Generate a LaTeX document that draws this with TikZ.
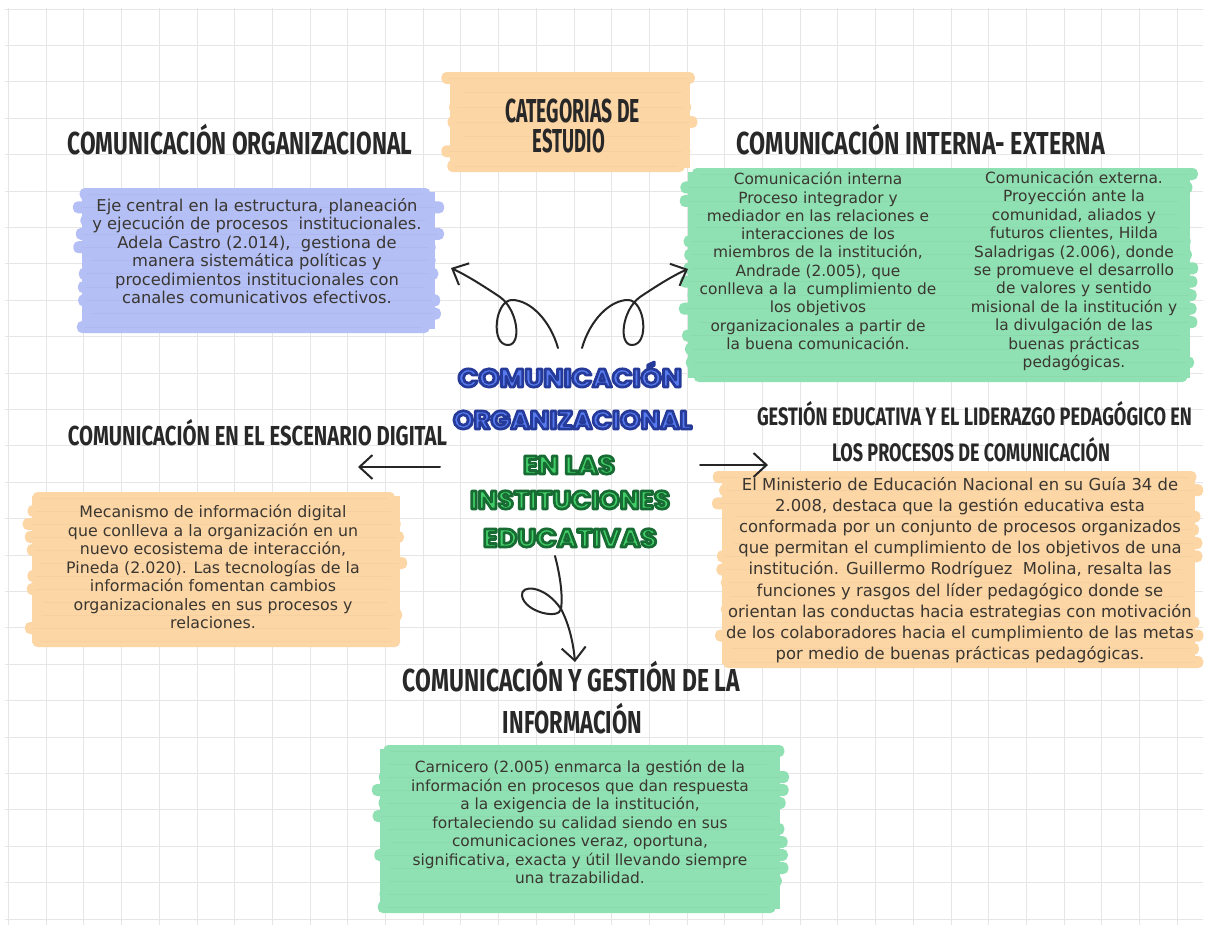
\documentclass[tikz,border=0pt]{standalone}
\usepackage{fontspec}
\usepackage{graphicx}
\usetikzlibrary{arrows.meta}
\setmainfont{DejaVu Sans}
\newfontfamily\headfont{Fira Sans}[FakeStretch=0.66]
\newfontfamily\titlefont{Poppins}
\definecolor{peach}{RGB}{253,214,166}
\definecolor{lav}{RGB}{180,191,246}
\definecolor{mint}{RGB}{143,224,178}
\definecolor{txt}{RGB}{58,54,48}
\definecolor{headc}{RGB}{40,40,40}
\definecolor{gridc}{RGB}{230,230,230}
\definecolor{tblue}{RGB}{88,124,240}
\definecolor{tgreen}{RGB}{66,206,104}
\newcommand\fitcaps[4]{\resizebox{#1pt}{#2pt}{#3\vphantom{H}\smash{#4}}}
% outlined text: fill colour #1, stroke colour #2 given as PDF rgb triple
\newcommand\bub[3]{{\color{#1}\special{pdf:literal direct 2 Tr 2.6 w #2 RG 1 j}#3\special{pdf:literal direct 0 Tr}}}
\newcommand\brushbox[6]{%
 \pgfmathsetseed{#6}%
 \fill[#5] ({#1+10},{#2+4}) rectangle ({#3-10},{#4-4});
 \pgfmathtruncatemacro\nb{(#4-#2-12)/13}%
 \foreach \k in {0,...,\nb}{%
   \pgfmathsetmacro\yy{#2+\k*(#4-#2-12)/\nb}%
   \pgfmathsetmacro\la{#1+rnd*16}%
   \pgfmathsetmacro\ra{#3-rnd*16}%
   \fill[#5, rounded corners=5pt] (\la,\yy) rectangle (\ra,\yy+12);
   \draw[#5!85!black, opacity=.18, line width=.8pt] ({\la+8},{\yy+6}) -- ({\ra-8},{\yy+6});
 }%
}
\tikzset{
 head/.style={anchor=base, inner sep=0pt, text=headc},
 ttl/.style={anchor=base, inner sep=0pt},
 body/.style={text=txt, align=center, inner sep=0pt},
 arr/.style={draw=black!85, line width=2pt, line cap=round, line join=round,
   -{Straight Barb[length=13pt,width=24pt]}},
 gridline/.style={draw=gridc, line width=1pt}
}
\begin{document}
\begin{tikzpicture}[x=1pt,y=-1pt]
\fill[white] (0,0) rectangle (1207,930);
\useasboundingbox (0,0) rectangle (1207,930);
% grid
\foreach \i in {0,...,31} \draw[gridline] ({8.5+37.7*\i},8) -- ({8.5+37.7*\i},925);
\foreach \j in {0,...,25} \draw[gridline] (5,{9+36.4*\j}) -- (1203,{9+36.4*\j});
% brush boxes
\brushbox{440}{72}{700}{172}{peach}{3}
\brushbox{72}{188}{445}{333}{lav}{5}
\brushbox{678}{168}{1200}{382}{mint}{7}
\brushbox{22}{492}{410}{647}{peach}{11}
\brushbox{712}{471}{1205}{668}{peach}{13}
\brushbox{370}{745}{790}{913}{mint}{17}
% headings
\node[head] (cat1) at (572.5,122) {\fitcaps{135}{23}{\headfont\bfseries}{CATEGORIAS DE}};
\node[head] (cat2) at (569,152) {\fitcaps{72}{23}{\headfont\bfseries}{ESTUDIO}};
\node[head] (hOrg) at (240,154) {\fitcaps{344}{22}{\headfont\bfseries}{COMUNICACIÓN ORGANIZACIONAL}};
\node[head] (hInt) at (921,154) {\fitcaps{368}{22}{\headfont\bfseries}{COMUNICACIÓN INTERNA- EXTERNA}};
\node[head] (hDig) at (257.5,445.5) {\fitcaps{379}{19}{\headfont\bfseries}{COMUNICACIÓN EN EL ESCENARIO DIGITAL}};
\node[head] (hGes1) at (974.5,425.7) {\fitcaps{435}{17.5}{\headfont\bfseries}{GESTIÓN EDUCATIVA Y EL LIDERAZGO PEDAGÓGICO EN}};
\node[head] (hGes2) at (971,461.7) {\fitcaps{278}{17.5}{\headfont\bfseries}{LOS PROCESOS DE COMUNICACIÓN}};
\node[head] (hInf1) at (571.5,691) {\fitcaps{337}{22}{\headfont\bfseries}{COMUNICACIÓN Y GESTIÓN DE LA}};
\node[head] (hInf2) at (572.5,733) {\fitcaps{139}{22}{\headfont\bfseries}{INFORMACIÓN}};
% title
\node[ttl] (t1) at (570,387) {\fitcaps{224}{18}{\titlefont\bfseries\fontsize{25}{25}\selectfont}{\bub{tblue}{0.15 0.23 0.60}{COMUNICACIÓN}}};
\node[ttl] (t2) at (572.5,429) {\fitcaps{239}{18}{\titlefont\bfseries\fontsize{25}{25}\selectfont}{\bub{tblue}{0.15 0.23 0.60}{ORGANIZACIONAL}}};
\node[ttl] (t3) at (569,474) {\fitcaps{92}{18}{\titlefont\bfseries\fontsize{25}{25}\selectfont}{\bub{tgreen}{0.09 0.42 0.20}{EN LAS}}};
\node[ttl] (t4) at (570,509) {\fitcaps{200}{18}{\titlefont\bfseries\fontsize{25}{25}\selectfont}{\bub{tgreen}{0.09 0.42 0.20}{INSTITUCIONES}}};
\node[ttl] (t5) at (570,547) {\fitcaps{174}{18}{\titlefont\bfseries\fontsize{25}{25}\selectfont}{\bub{tgreen}{0.09 0.42 0.20}{EDUCATIVAS}}};
% body texts
\node[body, font=\fontsize{16.3}{18.4}\selectfont] (tOrg) at (257,251) {Eje central en la estructura, planeación\\y ejecución de procesos\ \ institucionales.\\Adela Castro (2.014),\ \ gestiona de\\manera sistemática políticas y\\procedimientos institucionales con\\canales comunicativos efectivos.};
\node[body, font=\fontsize{15.4}{18.3}\selectfont] (tInt) at (818,261) {Comunicación interna\\Proceso integrador y\\mediador en las relaciones e\\interacciones de los\\miembros de la institución,\\Andrade (2.005), que\\conlleva a la\ \ cumplimiento de\\los objetivos\\organizacionales a partir de\\la buena comunicación.};
\node[body, font=\fontsize{15.4}{18.4}\selectfont] (tExt) at (1074,271) {Comunicación externa.\\Proyección ante la\\comunidad, aliados y\\futuros clientes, Hilda\\Saladrigas (2.006), donde\\se promueve el desarrollo\\de valores y sentido\\misional de la institución y\\la divulgación de las\\buenas prácticas\\pedagógicas.};
\node[body, font=\fontsize{15.8}{18.5}\selectfont] (tDig) at (213,567) {Mecanismo de información digital\\que conlleva a la organización en un\\nuevo ecosistema de interacción,\\Pineda (2.020). Las tecnologías de la\\información fomentan cambios\\organizacionales en sus procesos y\\relaciones.};
\node[body, font=\fontsize{16.4}{21.2}\selectfont] (tGes) at (960,570) {El Ministerio de Educación Nacional en su Guía 34 de\\2.008, destaca que la gestión educativa esta\\conformada por un conjunto de procesos organizados\\que permitan el cumplimiento de los objetivos de una\\institución. Guillermo Rodríguez\ \ Molina, resalta las\\funciones y rasgos del líder pedagógico donde se\\orientan las conductas hacia estrategias con motivación\\de los colaboradores hacia el cumplimiento de las metas\\por medio de buenas prácticas pedagógicas.};
\node[body, font=\fontsize{15.4}{18.5}\selectfont] (tInf) at (580,822) {Carnicero (2.005) enmarca la gestión de la\\información en procesos que dan respuesta\\a la exigencia de la institución,\\fortaleciendo su calidad siendo en sus\\comunicaciones veraz, oportuna,\\significativa, exacta y útil llevando siempre\\una trazabilidad.};
% arrows
\coordinate (aLs) at (440,467); \coordinate (aLe) at (358,467);
\coordinate (aRs) at (700,465); \coordinate (aRe) at (768,465);
\coordinate (cLs) at (558,348); \coordinate (cLe) at (451,268);
\coordinate (cRs) at (582,348); \coordinate (cRe) at (688,269);
\coordinate (cDs) at (555,556); \coordinate (cDe) at (575,662);
\draw[arr] (aLs) -- (aLe);
\draw[arr] (aRs) -- (aRe);
\draw[arr] (cLs) .. controls (550,320) and (530,300) .. (512,300) .. controls (495,300) and (490,345) .. (508,345) .. controls (522,345) and (518,310) .. (500,297) .. controls (485,287) and (468,276) .. (cLe);
\draw[arr] (cRs) .. controls (590,320) and (610,300) .. (628,300) .. controls (645,300) and (650,345) .. (632,345) .. controls (618,345) and (622,310) .. (640,297) .. controls (655,287) and (672,276) .. (cRe);
\draw[arr] (cDs) .. controls (560,575) and (563,595) .. (561,609) .. controls (559,620) and (525,612) .. (522,596) .. controls (520,584) and (545,585) .. (561,609) .. controls (568,622) and (573,640) .. (cDe);
\end{tikzpicture}
\end{document}
